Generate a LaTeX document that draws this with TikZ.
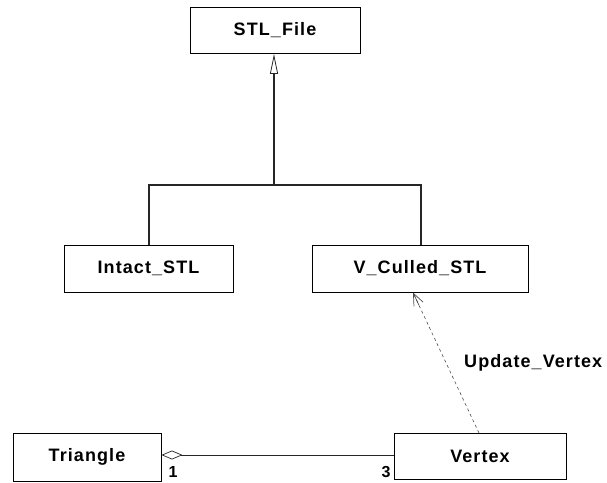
\documentclass[tikz,border=0pt]{standalone}
\usepackage{fontspec}
\setmainfont{Liberation Sans}[LetterSpace=6]
\usetikzlibrary{arrows.meta,calc}
\begin{document}
\begin{tikzpicture}[x=1pt,y=-1pt,
  cls/.style={draw=black, line width=0.9pt, fill=white, minimum height=#1, inner sep=0pt, font=\bfseries\fontsize{18}{18}\selectfont},
  cls/.default=46pt,
  link/.style={draw=black!85, line width=1.3pt},
  dep/.style={draw=black!70, line width=0.6pt, dash pattern=on 3pt off 3pt},
  mult/.style={font=\bfseries\fontsize{16}{16}\selectfont, inner sep=0pt}]
\useasboundingbox (0,0) rectangle (607,482);
\node[cls, minimum width=170pt] (file) at (275,30.5) {STL\_File};
\node[cls=47pt, minimum width=169pt] (intact) at (148.5,268.5) {Intact\_STL};
\node[cls=47pt, minimum width=216pt] (culled) at (420,268.5) {V\_Culled\_STL};
\node[cls=48pt, minimum width=148pt] (tri) at (87,457) {Triangle};
\node[cls, minimum width=172pt] (vert) at (480,456) {Vertex};
\coordinate (j) at (274,185);
\coordinate (jl) at (149,185);
\coordinate (jr) at (421,185);
\draw[link, -{Triangle[open, length=20pt, width=8pt, line width=0.8pt]}] (j) -- (file.south -| j);
\draw[link] (intact.north -| jl) -- (jl) -- (jr) -- (culled.north -| jr);
\coordinate (vt) at (479,433);
\coordinate (ct) at (413,292.5);
\draw[dep] (vt) -- (ct);
\draw[draw=black!70, line width=0.7pt, {Straight Barb[length=12pt, width=10pt]}-] (ct) -- ($(ct)!14pt!(vt)$);
\draw[link, line width=1pt, {Diamond[open, length=21pt, width=9pt, line width=0.7pt]}-] (tri.east |- 0,455) -- (vert.west |- 0,455);
\node[mult] (m1) at (173,472) {1};
\node[mult] (m3) at (386,472) {3};
\node[font=\bfseries\fontsize{18}{18}\selectfont, anchor=west, inner sep=0pt] (upd) at (464,363) {Update\_Vertex};
\end{tikzpicture}
\end{document}
